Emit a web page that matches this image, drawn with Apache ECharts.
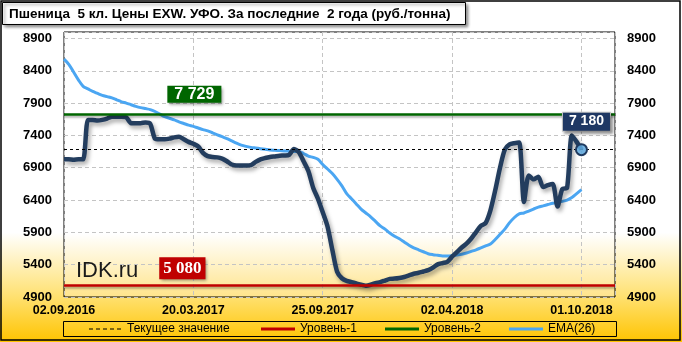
<!DOCTYPE html>
<html><head><meta charset="utf-8">
<script src="https://cdn.jsdelivr.net/npm/echarts@6/dist/echarts.min.js"></script>
<style>html,body{margin:0;padding:0;background:#fff}#c{width:682px;height:342px}</style>
</head><body><div id="c"></div>
<script>
const titleText = 'Пшеница  5 кл. Цены EXW. УФО. За последние  2 года (руб./тонна)';
const tickLabels = ['02.09.2016', '20.03.2017', '25.09.2017', '02.04.2018', '01.10.2018'];
const tickStep = 27;      // weekly points between date labels
const xMax = 115;         // axis end (space right of the last point)
const yMin = 4900, yMax = 9000, yStep = 500;
const level1 = 5080;
const level2 = 7729;
const watermark = 'IDK.ru';
const legendNames = ['Текущее значение', 'Уровень-1', 'Уровень-2', 'EMA(26)'];

const price = [
  7030, 7030, 7025, 7030, 7030, 7640, 7640, 7630, 7640, 7660,
  7690, 7690, 7690, 7680, 7590, 7590, 7590, 7600, 7580, 7350,
  7340, 7340, 7350, 7370, 7380, 7340, 7300, 7270, 7230, 7130,
  7080, 7065, 7060, 7040, 7000, 6950, 6935, 6935, 6935, 6940,
  6990, 7030, 7050, 7065, 7075, 7085, 7090, 7100, 7190, 7140,
  7000, 6850, 6590, 6420, 6210, 5990, 5630, 5290, 5190, 5150,
  5130, 5110, 5090, 5075, 5090, 5115, 5130, 5155, 5180, 5185,
  5195, 5210, 5235, 5260, 5275, 5295, 5315, 5355, 5405, 5425,
  5445, 5525, 5595, 5665, 5725, 5805, 5905, 6000, 6045, 6240,
  6550, 6900, 7180, 7260, 7280, 7290, 6370, 6780, 6720, 6760,
  6600, 6630, 6650, 6300, 6570, 6590, 7400, 7300, 7180
];

const ema = [
  8580, 8500, 8380, 8260, 8160, 8120, 8080, 8050, 8020, 8000,
  7980, 7950, 7920, 7900, 7875, 7850, 7830, 7815, 7800, 7770,
  7730, 7690, 7665, 7640, 7610, 7585, 7560, 7540, 7515, 7490,
  7470, 7440, 7410, 7380, 7350, 7315, 7280, 7250, 7230, 7215,
  7205, 7195, 7185, 7175, 7170, 7165, 7160, 7155, 7150, 7150,
  7120, 7080, 7060, 7030, 6950, 6880, 6810, 6720, 6620, 6500,
  6420, 6340, 6260, 6200, 6140, 6070, 6000, 5950, 5890, 5840,
  5800, 5750, 5700, 5660, 5630, 5600, 5570, 5555, 5545, 5535,
  5535, 5540, 5550, 5560, 5580, 5605, 5630, 5660, 5690, 5720,
  5790, 5870, 5950, 6050, 6130, 6185, 6200, 6230, 6260, 6290,
  6310, 6330, 6350, 6365, 6380, 6400, 6440, 6500, 6560
];

const lastIdx = price.length - 1;
const currentValue = price[lastIdx];
const fmt = v => String(v).replace(/\B(?=(\d{3})+(?!\d))/g, ' ');
const FONT = '"Liberation Sans", Arial, sans-serif';

const chart = echarts.init(document.getElementById('c'), null, {renderer: 'canvas'});

const gridLine = {color: '#c4c4c4', width: 1, type: [4, 3]};
const yAxisBase = {
  type: 'value', min: yMin, max: yMax, interval: yStep,
  axisLine: {show: false}, axisTick: {show: false},
  axisLabel: {
    color: '#000', fontWeight: 'bold', fontSize: 13, fontFamily: FONT, margin: 12,
    showMaxLabel: false,
    formatter: v => ((v - yMin) % yStep === 0 ? String(v) : '')
  }
};

// legend icons drawn as plain lines (solid or dashed) without a symbol
const solidIcon = 'path://M0,0H34V3H0Z';
const dashIcon = 'path://M0,0H4V1H0Z M7,0H11V1H7Z M14,0H18V1H14Z M21,0H25V1H21Z M28,0H32V1H28Z';

function legendFor(name, left, icon, h) {
  return {
    data: [{name: name, icon: icon}], left: left, top: 322, padding: 0,
    itemWidth: 34, itemHeight: h, itemGap: 0,
    textStyle: {color: '#000', fontSize: 12, fontFamily: FONT, padding: [0, 0, 0, 0], lineHeight: 14},
    selectedMode: false
  };
}

const option = {
  animation: false,
  backgroundColor: {
    type: 'linear', x: 0, y: 0, x2: 0, y2: 1,
    colorStops: [
      {offset: 0, color: '#ffffff'}, {offset: 0.68, color: '#ffffff'},
      {offset: 0.86, color: '#ffe276'}, {offset: 1, color: '#ffc400'}
    ]
  },
  grid: {
    left: 64, top: 32, right: 67, bottom: 45, show: true,
    borderColor: '#000', borderWidth: 1,
    backgroundColor: {
      type: 'linear', x: 0, y: 0, x2: 0, y2: 1,
      colorStops: [
        {offset: 0, color: '#ffffff'}, {offset: 0.76, color: '#ffffff'},
        {offset: 1, color: '#ffe48a'}
      ]
    },
    outerBoundsMode: 'none'
  },
  legend: [
    legendFor(legendNames[0], 89, dashIcon, 1),
    legendFor(legendNames[1], 261, solidIcon, 3),
    legendFor(legendNames[2], 385, solidIcon, 3),
    legendFor(legendNames[3], 509, solidIcon, 3)
  ],
  xAxis: {
    type: 'value', min: 0, max: xMax, interval: tickStep,
    axisLine: {show: false}, axisTick: {show: false},
    splitLine: {show: true, lineStyle: gridLine},
    axisLabel: {
      color: '#000', fontWeight: 'bold', fontSize: 12.5, fontFamily: FONT, margin: 7,
      showMaxLabel: false,
      formatter: v => (v % tickStep === 0 && tickLabels[v / tickStep] ? tickLabels[v / tickStep] : '')
    }
  },
  yAxis: [
    Object.assign({}, yAxisBase, {position: 'left', splitLine: {show: true, lineStyle: gridLine}}),
    Object.assign({}, yAxisBase, {position: 'right', splitLine: {show: false}})
  ],
  graphic: [
    {type: 'rect', z: 100, shape: {x: 1, y: 1, width: 679, height: 339},
     style: {fill: 'transparent', stroke: '#000', lineWidth: 1.5}},
    {type: 'rect', z: 90, shape: {x: 2.5, y: 2.5, width: 463, height: 22},
     style: {fill: '#fff', stroke: '#000', lineWidth: 1, shadowBlur: 3, shadowOffsetX: 2, shadowOffsetY: 2, shadowColor: 'rgba(0,0,0,0.45)'}},
    {type: 'text', z: 91, x: 9, y: 14,
     style: {text: titleText, fill: '#000', font: 'bold 13.5px ' + FONT, verticalAlign: 'middle'}},
    {type: 'rect', z: 5, shape: {x: 63.5, y: 321.5, width: 553, height: 15},
     style: {fill: 'transparent', stroke: '#000', lineWidth: 1}},
    {type: 'text', z: 20, x: 76, y: 271,
     style: {text: watermark, fill: '#1a1a1a', font: '22px ' + FONT, verticalAlign: 'middle'}}
  ],
  series: [
    {
      name: legendNames[0], type: 'line', data: [], symbol: 'none', z: 1,
      lineStyle: {color: '#000', width: 1, type: [3, 3]},
      itemStyle: {color: '#000'},
      markLine: {
        silent: true, symbol: ['none', 'none'], label: {show: false},
        lineStyle: {color: '#000', width: 1, type: [3, 3]},
        data: [{yAxis: currentValue}]
      }
    },
    {
      name: legendNames[1], type: 'line', data: [], symbol: 'none', z: 1,
      lineStyle: {color: '#c00000', width: 3},
      itemStyle: {color: '#c00000'},
      markLine: {
        silent: true, symbol: ['none', 'none'], label: {show: false},
        lineStyle: {color: '#c00000', width: 2.5, type: 'solid', shadowColor: 'rgba(0,0,0,0.3)', shadowBlur: 2, shadowOffsetY: 2},
        data: [{yAxis: level1}]
      },
      markPoint: {
        silent: true, symbol: 'rect', symbolSize: 0,
        data: [{coord: [tickStep, level1], value: level1}],
        label: {
          show: true, position: 'inside', offset: [-11, -17],
          formatter: p => fmt(p.value),
          color: '#fff', fontWeight: 'bold', fontSize: 17, fontFamily: '"Liberation Serif", serif',
          lineHeight: 19, backgroundColor: '#c00000', padding: [2, 4, 1, 4],
          shadowBlur: 3, shadowOffsetX: 2, shadowOffsetY: 2, shadowColor: 'rgba(0,0,0,0.4)'
        }
      }
    },
    {
      name: legendNames[2], type: 'line', data: [], symbol: 'none', z: 1,
      lineStyle: {color: '#006600', width: 3},
      itemStyle: {color: '#006600'},
      markLine: {
        silent: true, symbol: ['none', 'none'], label: {show: false},
        lineStyle: {color: '#006600', width: 2.5, type: 'solid', shadowColor: 'rgba(0,0,0,0.3)', shadowBlur: 2, shadowOffsetY: 2},
        data: [{yAxis: level2}]
      },
      markPoint: {
        silent: true, symbol: 'rect', symbolSize: 0,
        data: [{coord: [tickStep, level2], value: level2}],
        label: {
          show: true, position: 'inside', offset: [1, -20],
          formatter: p => fmt(p.value),
          color: '#fff', fontWeight: 'bold', fontSize: 16, fontFamily: FONT,
          lineHeight: 16, backgroundColor: '#006600', padding: [1, 7, 0, 7],
          shadowBlur: 3, shadowOffsetX: 2, shadowOffsetY: 2, shadowColor: 'rgba(0,0,0,0.4)'
        }
      }
    },
    {
      name: legendNames[3], type: 'line', z: 2, symbol: 'none', smooth: 0.3,
      data: ema.map((v, i) => [i, v]),
      lineStyle: {color: '#4ba6f2', width: 3},
      itemStyle: {color: '#4ba6f2'}
    },
    {
      name: 'Цена', type: 'line', z: 3, symbol: 'none', smooth: 0.25,
      data: price.map((v, i) => [i, v]),
      lineStyle: {color: '#233d5e', width: 4.5, shadowColor: 'rgba(0,0,0,0.35)', shadowBlur: 4, shadowOffsetX: 2, shadowOffsetY: 3},
      itemStyle: {color: '#233d5e'},
      markPoint: {
        silent: true, symbol: 'circle', symbolSize: 11,
        itemStyle: {color: 'rgba(95,170,225,0.85)', borderColor: '#1f3a5f', borderWidth: 2},
        data: [{coord: [lastIdx, currentValue], value: currentValue}],
        label: {
          show: true, position: 'inside', offset: [5, -28],
          formatter: p => fmt(p.value),
          color: '#fff', fontWeight: 'bold', fontSize: 14, fontFamily: FONT,
          lineHeight: 15, backgroundColor: '#1f3864', borderColor: '#c8c8c8', borderWidth: 1,
          padding: [2, 6, 1, 6],
          shadowBlur: 3, shadowOffsetX: 2, shadowOffsetY: 2, shadowColor: 'rgba(0,0,0,0.4)'
        }
      }
    }
  ]
};
chart.setOption(option);
</script>
</body></html>
